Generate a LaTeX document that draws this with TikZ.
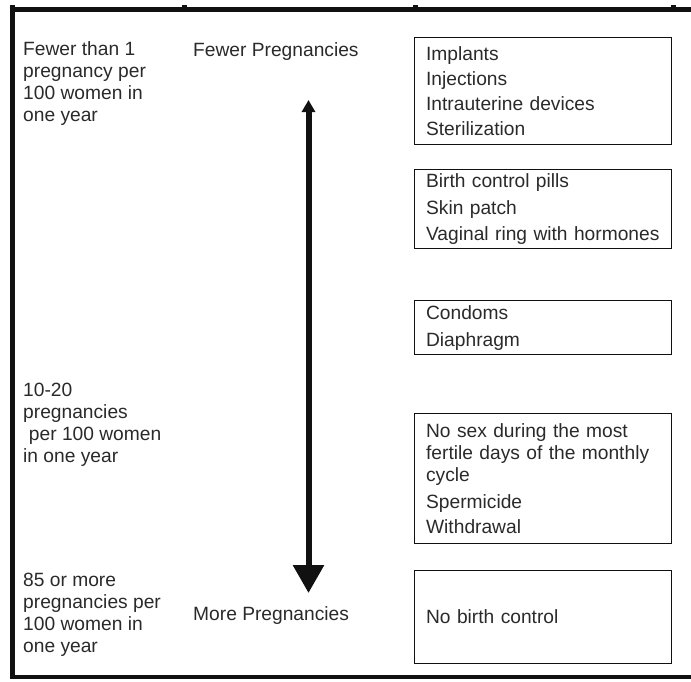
\documentclass[tikz,border=0pt]{standalone}
\usepackage{fontspec}
\setmainfont{Liberation Sans}
\usetikzlibrary{arrows.meta,positioning,calc}
\definecolor{ink}{HTML}{111111}
\definecolor{textInk}{HTML}{2A2A2A}
\tikzset{
  rate/.style={anchor=north west,inner sep=0pt,align=left,text=textInk},
  scaleTag/.style={anchor=base west,inner sep=0pt,text=textInk},
  method/.style={draw=ink,line width=1.2pt,anchor=north west,text=textInk,
    align=left,text width=234pt,inner xsep=11.5pt,inner ysep=0pt},
  tableRule/.style={draw=ink,line width=4.2pt},
  rateArrow/.style={draw=ink,line width=6pt,
    {Triangle[length=12pt,width=13pt]}-{Triangle[length=28pt,width=30pt]}}
}

\begin{document}
\begin{tikzpicture}[x=1pt,y=-1pt,font=\fontsize{19.2}{22}\selectfont]
  \path[use as bounding box] (0,0) rectangle (691,681);

  % outer table rules, with the column stubs on the top edge
  \draw[tableRule] (10,9.5) -- (691,9.5);
  \draw[tableRule] (12.5,7.5) -- (12.5,679);
  \draw[tableRule] (10,677) -- (691,677);
  \foreach \colX in {12,184,415,673}
    \fill[ink] (\colX-2.5,8) rectangle (\colX+2.5,4.5);

  % first column: pregnancy rates
  \node[rate] (lowRate) at (23,41.2)
    {Fewer than 1\\pregnancy per\\100 women in\\one year};
  \node[rate] (midRate) at (23,383.2)
    {10-20\\pregnancies\\\hspace*{0.3em}per 100 women\\in one year};
  \node[rate] (highRate) at (23,573.2)
    {85 or more\\pregnancies per\\100 women in\\one year};

  % second column: the scale
  \node[scaleTag] (fewerTag) at (193,56) {Fewer Pregnancies};
  \node[scaleTag] (moreTag) at (193,620) {More Pregnancies};
  \coordinate (arrowTop) at (308.5,100);
  \coordinate (arrowBottom) at (308.5,593);
  \draw[rateArrow] (arrowTop) -- (arrowBottom);

  % third column: methods
  \node[method,minimum height=107pt] (tierOne) at (414,37)
    {Implants\\[3.3pt]Injections\\[3.3pt]Intrauterine devices\\[3.3pt]Sterilization};
  \node[method,minimum height=79pt] (tierTwo) at (414,169)
    {Birth control pills\\[4.5pt]Skin patch\\[4.5pt]Vaginal ring with hormones};
  \node[method,minimum height=54pt] (tierThree) at (414,300)
    {Condoms\\[5pt]Diaphragm};
  \node[method,minimum height=130pt] (tierFour) at (414,413)
    {No sex during the most\\fertile days of the monthly\\cycle\\[5pt]Spermicide\\[3pt]Withdrawal};
  \node[method,minimum height=93pt] (tierFive) at (414,570)
    {No birth control};
\end{tikzpicture}
\end{document}
